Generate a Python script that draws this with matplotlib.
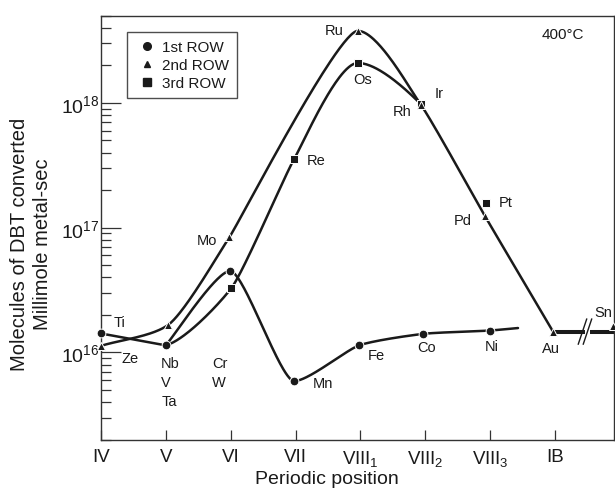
import numpy as np
import matplotlib
matplotlib.use("Agg")
import matplotlib.pyplot as plt
from matplotlib.lines import Line2D
from matplotlib.ticker import LogLocator, FixedLocator, NullFormatter

plt.rcParams['font.family'] = ['Liberation Sans', 'DejaVu Sans']
plt.rcParams['mathtext.fontset'] = 'custom'
plt.rcParams['mathtext.rm'] = 'Liberation Sans'
plt.rcParams['mathtext.it'] = 'Liberation Sans:italic'
plt.rcParams['mathtext.bf'] = 'Liberation Sans:bold'

# ---------------- data ----------------
group_labels = ['IV', 'V', 'VI', 'VII', 'VIII$_1$', 'VIII$_2$', 'VIII$_3$', 'IB']

row1_names = ['Ti', 'V', 'Cr', 'Mn', 'Fe', 'Co', 'Ni']
row1_x = [0.0, 1.0, 1.99, 2.98, 3.98, 4.97, 6.0]
row1_y = [1.42e16, 1.14e16, 4.5e16, 5.9e15, 1.14e16, 1.41e16, 1.50e16]
row1_tail_x = 6.43
row1_tail_y = 1.57e16

row2_names = ['Ze', 'Nb', 'Mo', 'Ru', 'Rh', 'Pd', 'Au']
row2_x = [0.0, 1.04, 1.98, 3.96, 4.93, 5.92, 6.97]
row2_y = [1.13e16, 1.67e16, 8.4e16, 3.78e18, 9.7e17, 1.24e17, 1.47e16]

sn_x = 7.90
sn_y = 1.64e16

row3_names = ['Ta', 'W', 'Re', 'Os', 'Ir', 'Pt']
row3_x = [1.0, 2.01, 2.98, 3.96, 4.93, 5.94]
row3_y = [1.14e16, 3.28e16, 3.57e17, 2.09e18, 9.8e17, 1.58e17]

# ---------------- figure ----------------
INK = '#1a1a1a'
fig = plt.figure(figsize=(6.15, 4.89), dpi=100)
ax = fig.add_axes([101/615, (489-440.7)/489, 513/615, 424/489])
ax.set_yscale('log')
ax.set_xlim(0, 7.91)
ax.set_ylim(2e15, 5e18)

for s in ax.spines.values():
    s.set_color('#333333')
    s.set_linewidth(1.0)

ax.xaxis.set_major_locator(FixedLocator(range(len(group_labels))))
ax.set_xticklabels(group_labels, fontsize=13.5, color=INK)
ax.tick_params(axis='x', direction='in', length=7.2, width=0.9, color='#333333', pad=6)
ax.yaxis.set_major_locator(FixedLocator([1e16, 1e17, 1e18]))
ax.set_yticklabels(['$10^{16}$', '$10^{17}$', '$10^{18}$'], fontsize=14, color=INK)
ax.yaxis.set_minor_locator(LogLocator(base=10, subs=np.arange(2, 10)))
ax.yaxis.set_minor_formatter(NullFormatter())
ax.tick_params(axis='y', which='major', direction='in', length=14.5, width=0.9, color='#333333', pad=1.0)
ax.tick_params(axis='y', which='minor', direction='in', length=7.2, width=0.9, color='#333333')

ax.set_xlabel('Periodic position', fontsize=14, color=INK)
ax.xaxis.set_label_coords(0.4405, -0.0726)
ax.set_ylabel('Molecules of DBT converted\nMillimole metal-sec', fontsize=14.5, color=INK,
              linespacing=1.3)
ax.yaxis.set_label_coords(-0.0951, 0.464)


def smooth_curve(xs, ys, cap=20.0, start='chord', nseg=None, lw=1.8):
    """Cubic Bezier through the points (in display space) with rounded joins."""
    P = ax.transData.transform(np.column_stack([xs, ys]))
    n = len(P)
    D = np.diff(P, axis=0)
    L = np.hypot(D[:, 0], D[:, 1])
    U = D / L[:, None]
    T = np.zeros_like(P)
    for i in range(n):
        if i == 0:
            if start == 'pchip' and n > 2:
                h0, h1 = D[0, 0], D[1, 0]
                d0, d1 = D[0, 1] / h0, D[1, 1] / h1
                m = ((2*h0 + h1)*d0 - h0*d1) / (h0 + h1)
                if np.sign(m) != np.sign(d0):
                    m = 0.0
                t = np.array([1.0, m])
            else:
                t = U[0]
        elif i == n - 1:
            t = U[-1]
        elif D[i-1, 1] * D[i, 1] < 0:
            t = np.array([1.0, 0.0])
        else:
            t = U[i-1] + U[i]
        T[i] = t / np.hypot(*t)
    s = np.linspace(0, 1, 60)[:, None]
    segs = []
    last = n - 1 if nseg is None else nseg
    for i in range(last):
        h = min(L[i] / 3.0, cap)
        c1 = P[i] + T[i]*h
        c2 = P[i+1] - T[i+1]*h
        B = (1-s)**3*P[i] + 3*(1-s)**2*s*c1 + 3*(1-s)*s**2*c2 + s**3*P[i+1]
        segs.append(B if i == 0 else B[1:])
    Q = ax.transData.inverted().transform(np.vstack(segs))
    ax.plot(Q[:, 0], Q[:, 1], color=INK, lw=lw, solid_capstyle='round', zorder=2)


# row 1 (first row metals)
smooth_curve(row1_x[:2], row1_y[:2])
smooth_curve(row1_x[1:] + [row1_tail_x], row1_y[1:] + [row1_tail_y], cap=14)
# row 2
smooth_curve(row2_x, row2_y, cap=20)
# row 3 (joins row 2 line after Ir)
smooth_curve(row3_x, row3_y, cap=20, start='pchip', nseg=4)

# Au -> Sn with axis break (line at the Au level)
au_x, au_y = row2_x[-1], row2_y[-1]
bx0, bx1 = 7.462, 7.539
ax.plot([au_x, bx0], [au_y, au_y], color=INK, lw=2.9, zorder=2, solid_capstyle='butt')
ax.plot([bx1, sn_x + 0.02], [au_y, au_y], color=INK, lw=2.9, zorder=2,
        solid_capstyle='butt', clip_on=False)
for xc in (7.424, 7.501):
    cx, cy = ax.transData.transform((xc, au_y))
    ends = np.array([[cx - 4.2, cy - 12.5], [cx + 4.2, cy + 12.5]])
    e = ax.transData.inverted().transform(ends)
    ax.plot(e[:, 0], e[:, 1], color=INK, lw=1.0, zorder=3)

mk = dict(linestyle='none', color=INK, markeredgecolor='white', markeredgewidth=0.7,
          zorder=4, clip_on=False)
ax.plot(row3_x[1:], row3_y[1:], marker='s', markersize=6.0, **mk)
ax.plot(row1_x, row1_y, marker='o', markersize=6.3, **mk)
ax.plot(row2_x + [sn_x], row2_y + [sn_y], marker='^', markersize=6.0, **mk)

# element labels: offsets in pixels (dx right, dy down) from the point
label_off = {
    'Ti': (19, -11), 'Mn': (29, 2), 'Fe': (17, 10), 'Co': (3, 13), 'Ni': (1.5, 15),
    'Ze': (29, 12), 'Mo': (-22, 3), 'Ru': (-24, -1), 'Rh': (-19, 6), 'Pd': (-22, 4),
    'Au': (-2, 16), 'Re': (22, 1), 'Os': (5, 16), 'Ir': (18, -11), 'Pt': (19, -1),
}
pts = {}
for nm, x, y in zip(row1_names, row1_x, row1_y):
    pts[nm] = (x, y)
for nm, x, y in zip(row2_names, row2_x, row2_y):
    pts[nm] = (x, y)
for nm, x, y in zip(row3_names, row3_x, row3_y):
    pts[nm] = (x, y)
LFS = 10.5
for nm, (dx, dy) in label_off.items():
    ax.annotate(nm, pts[nm], xytext=(dx*0.72, -dy*0.72), textcoords='offset points',
                ha='center', va='center', fontsize=LFS, color=INK, zorder=5,
                annotation_clip=False)
ax.annotate('Sn', (sn_x, sn_y), xytext=(-10*0.72, 14*0.72), textcoords='offset points',
            ha='center', va='center', fontsize=LFS, color=INK, annotation_clip=False)
ax.annotate('Nb\nV\nTa', pts['V'], xytext=(-4.7*0.72, -37*0.72), textcoords='offset points',
            ha='left', va='center', fontsize=LFS, color=INK, linespacing=1.45)
ax.annotate('Cr\nW', pts['Cr'], xytext=(-18*0.72, -102*0.72), textcoords='offset points',
            ha='left', va='center', fontsize=LFS, color=INK, linespacing=1.45)

ax.text((563-101)/513, (440.7-35)/424, '400°C', transform=ax.transAxes,
        ha='center', va='center', fontsize=11, color=INK)

handles = [Line2D([], [], linestyle='none', marker='o', markersize=5.5, color=INK),
           Line2D([], [], linestyle='none', marker='^', markersize=5.0, color=INK),
           Line2D([], [], linestyle='none', marker='s', markersize=5.5, color=INK)]
leg = ax.legend(handles, ['1st ROW', '2nd ROW', '3rd ROW'], loc='upper left',
                bbox_to_anchor=((126.7-101)/513, (440.7-33.3)/424), borderaxespad=0,
                fontsize=11, frameon=True, fancybox=False, edgecolor='#222222',
                borderpad=0.5, handlelength=1.62, handletextpad=0.2, labelspacing=0.26)
leg.get_frame().set_linewidth(1.0)
for t in leg.get_texts():
    t.set_color(INK)

fig.savefig('out.png', dpi=100)
